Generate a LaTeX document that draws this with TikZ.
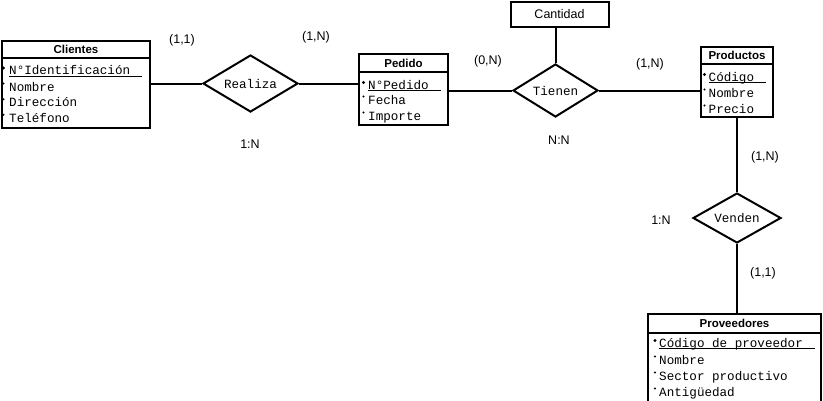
\documentclass[tikz,border=0pt]{standalone}
\usepackage{fontspec}
\setmainfont{Liberation Sans}
\newfontfamily\monof{Liberation Mono}
\usetikzlibrary{shapes.geometric}
\begin{document}
\begin{tikzpicture}[x=1pt,y=-1pt,
  ehead/.style={draw, line width=2pt, inner sep=0, font=\fontsize{11.5}{13}\selectfont\bfseries},
  ebody/.style={draw, line width=2pt, inner sep=0},
  attr/.style={inner sep=0, anchor=base west, font=\monof\fontsize{12.6}{15}\selectfont},
  rel/.style={draw, diamond, line width=2pt, inner sep=0, font=\monof\fontsize{12.6}{15}\selectfont},
  lbl/.style={inner sep=0, font=\fontsize{12.5}{15}\selectfont},
  attbox/.style={draw, line width=2pt, inner sep=0, font=\fontsize{12.5}{15}\selectfont},
  conn/.style={line width=2pt},
  uline/.style={line width=1pt},
  keydot/.style={fill=black},
]
\useasboundingbox (0,0) rectangle (823,400);
\fill[white] (0,0) rectangle (823,400);

% ---------- Clientes ----------
\node[ehead, minimum width=148pt, minimum height=17pt, anchor=north west] (cliH) at (1,40) {Clientes};
\node[ebody, minimum width=148pt, minimum height=70pt, anchor=north west] (cliB) at (1,57) {};
\node[attr] (cli1) at (9,74.5) {N°Identificación};
\node[attr] (cli2) at (9,91) {Nombre};
\node[attr] (cli3) at (9,106.7) {Dirección};
\node[attr] (cli4) at (9,122.3) {Teléfono};
\draw[uline] ([yshift=-1.5pt]cli1.base west) -- ([xshift=12pt,yshift=-1.5pt]cli1.base east);
\fill[keydot] ([xshift=-5.5pt,yshift=6.5pt]cli1.base west) circle (1.6pt);
\foreach \r in {cli2,cli3,cli4}{\fill ([xshift=-5.5pt,yshift=7.5pt]\r.base west) circle (1.1pt);}

% ---------- Pedido ----------
\node[ehead, minimum width=89pt, minimum height=18pt, anchor=north west] (pedH) at (358,53) {Pedido};
\node[ebody, minimum width=89pt, minimum height=53pt, anchor=north west] (pedB) at (358,71) {};
\node[attr] (ped1) at (368,89) {N°Pedido};
\node[attr] (ped2) at (368,104) {Fecha};
\node[attr] (ped3) at (368,120) {Importe};
\draw[uline] ([yshift=-1.5pt]ped1.base west) -- ([xshift=12pt,yshift=-1.5pt]ped1.base east);
\fill[keydot] ([xshift=-4.5pt,yshift=6.5pt]ped1.base west) circle (1.6pt);
\foreach \r in {ped2,ped3}{\fill ([xshift=-4.5pt,yshift=7.5pt]\r.base west) circle (1.1pt);}

% ---------- Productos ----------
\node[ehead, minimum width=72pt, minimum height=17pt, anchor=north west] (proH) at (700,46) {Productos};
\node[ebody, minimum width=72pt, minimum height=53pt, anchor=north west] (proB) at (700,63) {};
\node[attr] (pro1) at (708.5,81) {Código};
\node[attr] (pro2) at (708.5,97) {Nombre};
\node[attr] (pro3) at (708.5,113) {Precio};
\draw[uline] ([yshift=-1.5pt]pro1.base west) -- ([xshift=12pt,yshift=-1.5pt]pro1.base east);
\fill[keydot] ([xshift=-4pt,yshift=6.5pt]pro1.base west) circle (1.6pt);
\foreach \r in {pro2,pro3}{\fill ([xshift=-4pt,yshift=7.5pt]\r.base west) circle (1.1pt);}

% ---------- Proveedores ----------
\node[ehead, minimum width=173pt, minimum height=19pt, anchor=north west] (prvH) at (647,313) {Proveedores};
\node[ebody, minimum width=173pt, minimum height=74pt, anchor=north west] (prvB) at (647,332) {};
\node[attr] (prv1) at (659,347) {Código de proveedor};
\node[attr] (prv2) at (659,364) {Nombre};
\node[attr] (prv3) at (659,380) {Sector productivo};
\node[attr] (prv4) at (659,396) {Antigüedad};
\draw[uline] ([yshift=-1.5pt]prv1.base west) -- ([xshift=12pt,yshift=-1.5pt]prv1.base east);
\fill[keydot] ([xshift=-4pt,yshift=6.5pt]prv1.base west) circle (1.6pt);
\foreach \r in {prv2,prv3,prv4}{\fill ([xshift=-4pt,yshift=7.5pt]\r.base west) circle (1.1pt);}

% ---------- Relationships ----------
\node[rel, aspect=1.67, minimum width=95pt, minimum height=57pt] (rea) at (250.5,83.5) {Realiza};
\node[rel, aspect=1.6, minimum width=85pt, minimum height=53pt] (tie) at (555.5,90.5) {Tienen};
\node[rel, aspect=1.76, minimum width=88pt, minimum height=50pt] (ven) at (737,218) {Venden};

\node[attbox, minimum width=98pt, minimum height=25pt] (cant) at (559.5,14.5) {Cantidad};

% ---------- Connectors ----------
\draw[conn] (rea.west -| cliB.east) -- (rea.west);
\draw[conn] (rea.east) -- (rea.east -| pedB.west);
\draw[conn] (tie.west -| pedB.east) -- (tie.west);
\draw[conn] (tie.east) -- (tie.east -| proB.west);
\draw[conn] (tie.north) -- (tie.north |- cant.south);
\draw[conn] (ven.north |- proB.south) -- (ven.north);
\draw[conn] (ven.south) -- (ven.south |- prvH.north);

% ---------- Labels ----------
\node[lbl] (l1) at (182,40) {(1,1)};
\node[lbl] (l2) at (316,37) {(1,N)};
\node[lbl] (l3) at (250,144) {1:N};
\node[lbl] (l4) at (488,61) {(0,N)};
\node[lbl] (l5) at (559,140) {N:N};
\node[lbl] (l6) at (650,64) {(1,N)};
\node[lbl] (l7) at (765,157) {(1,N)};
\node[lbl] (l8) at (661,220) {1:N};
\node[lbl] (l9) at (763,273) {(1,1)};
\end{tikzpicture}
\end{document}
